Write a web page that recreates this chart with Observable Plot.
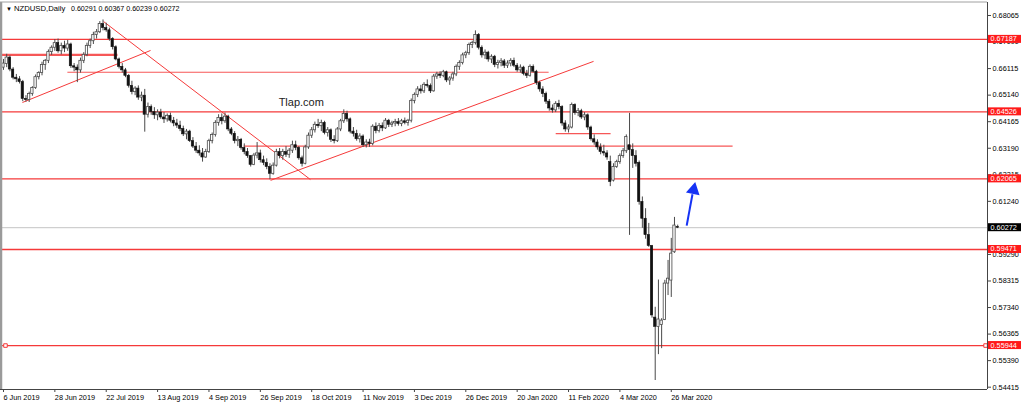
<!DOCTYPE html>
<html><head><meta charset="utf-8">
<script src="https://cdn.jsdelivr.net/npm/d3@7"></script>
<script src="https://cdn.jsdelivr.net/npm/@observablehq/plot@0.6"></script>
<style>
html,body{margin:0;padding:0;background:#fff;}
#chart{width:1024px;height:406px;overflow:hidden;}
</style></head><body><div id="chart"></div>
<script>
// ---- data (NZDUSD daily, bar index 0 = 6 Jun 2019) ----
const opens = [.6615,.6628,.6652,.6608,.6578,.6572,.6562,.6500,.6496,.6518,.6540,.6580,.6595,.6625,.6640,.6672,.6688,.6705,.6675,.6695,
.6685,.6700,.6620,.6615,.6605,.6640,.6662,.6695,.6712,.6735,.6745,.6775,.6760,.6752,.6720,.6690,.6645,.6618,.6605,.6585,
.6548,.6525,.6538,.6505,.6512,.6442,.6470,.6452,.6440,.6450,.6432,.6425,.6438,.6420,.6410,.6402,.6390,.6370,.6380,.6345,
.6325,.6310,.6300,.6285,.6305,.6345,.6368,.6412,.6430,.6418,.6435,.6388,.6372,.6345,.6350,.6320,.6305,.6290,.6258,.6292,
.6300,.6275,.6265,.6250,.6225,.6255,.6305,.6290,.6305,.6295,.6310,.6330,.6320,.6282,.6262,.6322,.6365,.6385,.6405,.6400,
.6412,.6375,.6385,.6350,.6345,.6388,.6418,.6445,.6425,.6380,.6372,.6352,.6362,.6330,.6340,.6335,.6398,.6382,.6400,.6392,
.6420,.6405,.6410,.6415,.6408,.6418,.6412,.6420,.6492,.6515,.6535,.6528,.6552,.6548,.6528,.6582,.6590,.6585,.6598,.6568,
.6575,.6590,.6618,.6632,.6660,.6668,.6698,.6705,.6735,.6688,.6660,.6670,.6645,.6655,.6625,.6632,.6638,.6622,.6630,.6640,
.6622,.6605,.6615,.6592,.6585,.6618,.6600,.6558,.6535,.6518,.6490,.6465,.6458,.6482,.6470,.6410,.6388,.6395,.6478,.6448,
.6455,.6432,.6440,.6395,.6352,.6340,.6322,.6305,.6300,.6268,.6200,.6250,.6268,.6290,.6308,.6330,.6312,.6290,.6265,.6122,
.6060,.6000,.5960,.5697,.5663,.5670,.5688,.5822,.5833,.5937,.60291];
const highs = [.6645,.6664,.6658,.6615,.6590,.6582,.6568,.6512,.6525,.6545,.6588,.6600,.6635,.6645,.6680,.6695,.6718,.6720,.6705,.6712,
.6715,.6705,.6630,.6625,.6650,.6670,.6705,.6720,.6745,.6755,.6784,.6790,.6778,.6760,.6725,.6695,.6650,.6630,.6612,.6590,
.6565,.6545,.6548,.6525,.6535,.6485,.6478,.6468,.6460,.6462,.6450,.6445,.6448,.6432,.6425,.6418,.6400,.6388,.6385,.6358,
.6340,.6328,.6318,.6315,.6352,.6375,.6420,.6442,.6445,.6448,.6440,.6395,.6380,.6362,.6355,.6335,.6318,.6292,.6300,.6340,
.6312,.6290,.6280,.6262,.6265,.6315,.6318,.6315,.6325,.6318,.6345,.6345,.6325,.6290,.6330,.6375,.6395,.6415,.6425,.6422,
.6418,.6395,.6390,.6365,.6395,.6425,.6460,.6455,.6430,.6395,.6385,.6372,.6368,.6350,.6352,.6405,.6412,.6410,.6412,.6428,
.6425,.6418,.6425,.6428,.6425,.6430,.6425,.6500,.6522,.6545,.6550,.6560,.6570,.6555,.6590,.6598,.6600,.6605,.6602,.6582,
.6598,.6625,.6640,.6668,.6675,.6705,.6712,.6750,.6740,.6695,.6680,.6675,.6662,.6660,.6642,.6648,.6645,.6640,.6648,.6650,
.6630,.6625,.6620,.6605,.6625,.6625,.6605,.6565,.6545,.6525,.6498,.6478,.6490,.6495,.6475,.6420,.6405,.6485,.6482,.6465,
.6462,.6450,.6445,.6400,.6368,.6350,.6335,.6330,.6310,.6290,.6262,.6275,.6298,.6318,.6368,.6447,.6335,.6310,.6272,.6140,
.6097,.6043,.5962,.5735,.5835,.5693,.5834,.5907,.5988,.6065,.60367];
const lows = [.6605,.6615,.6600,.6570,.6560,.6555,.6490,.6488,.6487,.6510,.6535,.6570,.6585,.6605,.6630,.6660,.6675,.6668,.6662,.6670,
.6675,.6612,.6600,.6560,.6595,.6630,.6655,.6685,.6700,.6720,.6740,.6750,.6745,.6712,.6680,.6640,.6610,.6595,.6578,.6540,
.6515,.6512,.6495,.6490,.6378,.6430,.6440,.6425,.6420,.6425,.6410,.6415,.6412,.6398,.6392,.6380,.6362,.6350,.6340,.6318,
.6300,.6290,.6268,.6282,.6300,.6335,.6360,.6400,.6405,.6410,.6380,.6365,.6335,.6325,.6312,.6295,.6282,.6250,.6255,.6280,
.6265,.6255,.6240,.6203,.6220,.6250,.6280,.6275,.6285,.6282,.6300,.6310,.6275,.6250,.6258,.6315,.6355,.6375,.6392,.6380,
.6368,.6360,.6340,.6335,.6340,.6380,.6410,.6415,.6372,.6360,.6345,.6338,.6322,.6320,.6322,.6328,.6372,.6375,.6380,.6388,
.6395,.6395,.6398,.6400,.6398,.6405,.6400,.6412,.6482,.6505,.6518,.6520,.6540,.6520,.6525,.6572,.6575,.6578,.6560,.6550,
.6565,.6582,.6605,.6625,.6648,.6660,.6685,.6698,.6680,.6650,.6645,.6635,.6630,.6615,.6610,.6618,.6612,.6612,.6618,.6615,
.6598,.6595,.6585,.6575,.6580,.6595,.6550,.6525,.6505,.6480,.6455,.6448,.6450,.6460,.6400,.6378,.6375,.6390,.6440,.6435,
.6425,.6420,.6385,.6345,.6330,.6312,.6295,.6290,.6275,.6178,.6195,.6245,.6260,.6282,.6300,.5999,.6245,.6250,.6110,.6025,
.5985,.5955,.5695,.5466,.5561,.5583,.5686,.5778,.5771,.5933,.60239];
const closes = [.6630,.6652,.6608,.6578,.6572,.6562,.6500,.6496,.6518,.6540,.6580,.6595,.6625,.6640,.6672,.6688,.6705,.6675,.6695,.6685,
.6700,.6620,.6615,.6605,.6640,.6662,.6695,.6712,.6735,.6745,.6775,.6760,.6752,.6720,.6690,.6645,.6618,.6605,.6585,.6548,
.6525,.6538,.6505,.6512,.6442,.6470,.6452,.6440,.6450,.6432,.6425,.6438,.6420,.6410,.6402,.6390,.6370,.6380,.6345,.6325,
.6310,.6300,.6285,.6305,.6345,.6368,.6412,.6430,.6418,.6435,.6388,.6372,.6345,.6350,.6320,.6305,.6290,.6258,.6292,.6300,
.6275,.6265,.6250,.6225,.6255,.6305,.6290,.6305,.6295,.6310,.6330,.6320,.6282,.6262,.6322,.6365,.6385,.6405,.6400,.6412,
.6375,.6385,.6350,.6345,.6388,.6418,.6445,.6425,.6380,.6372,.6352,.6362,.6330,.6340,.6335,.6398,.6382,.6400,.6392,.6420,
.6405,.6410,.6415,.6408,.6418,.6412,.6420,.6492,.6515,.6535,.6528,.6552,.6548,.6528,.6582,.6590,.6585,.6598,.6568,.6575,
.6590,.6618,.6632,.6660,.6668,.6698,.6705,.6735,.6688,.6660,.6670,.6645,.6655,.6625,.6632,.6638,.6622,.6630,.6640,.6622,
.6605,.6615,.6592,.6585,.6618,.6600,.6558,.6535,.6518,.6490,.6465,.6458,.6482,.6470,.6410,.6388,.6395,.6478,.6448,.6455,
.6432,.6440,.6395,.6352,.6340,.6322,.6305,.6300,.6285,.6195,.6250,.6268,.6290,.6308,.6360,.6312,.6290,.6262,.6122,.6060,
.6000,.5960,.5705,.5663,.5690,.5686,.5822,.5840,.5932,.6035,.60272];

const tickIndex = [0,16,32,48,64,80,96,112,128,144,160,176,192,208];
const tickLabels = ["6 Jun 2019","28 Jun 2019","22 Jul 2019","13 Aug 2019","4 Sep 2019","26 Sep 2019","18 Oct 2019",
  "11 Nov 2019","3 Dec 2019","26 Dec 2019","20 Jan 2020","11 Feb 2020","4 Mar 2020","26 Mar 2020"];
const yTicks = [0.68065,0.67090,0.66115,0.65140,0.64165,0.63190,0.62215,0.61240,0.60265,0.59290,0.58315,0.57340,0.56365,0.55390,0.54415];
const levels = [0.67187,0.64526,0.62065,0.59471,0.55944];
const bidPrice = 0.60272;
const hSegments = [
  {x1:-0.6, x2:35.5, y:0.6662, w:2.2},
  {x1:19.9, x2:169.8, y:0.6598, w:1.2},
  {x1:74.8, x2:227.1, y:0.6327, w:1.2},
  {x1:172, x2:189.1, y:0.6373, w:1.2}
];
const trendLines = [
  {x1:5.9, y1:0.6487, x2:45.8, y2:0.6678},
  {x1:31.2, y1:0.6784, x2:95.6, y2:0.6204},
  {x1:83.2, y1:0.6201, x2:183.8, y2:0.6638}
];
const arrowLine = [{x1:212.8, y1:0.6035, x2:214.6, y2:0.6150}];
const arrowHead = [{x:214.95, y:0.6166}];
const markerIdx = [0.62, 305.9];
const headerName = "NZDUSD,Daily";
const headerValues = ["0.60291","0.60367","0.60239","0.60272"];
const watermark = "Tlap.com";

// ---- build table ----
const bars = opens.map((o, i) => ({i, o, h: highs[i], l: lows[i], c: closes[i]}));
const up = d => d.c >= d.o;
const FONT = "'Liberation Sans', Arial, sans-serif";
const RED = "#f53a3a";
const xDomain = [-0.62, 306.5];
const yDomain = [0.54330, 0.68542];

const chart = Plot.plot({
  width: 1024, height: 406,
  marginLeft: 1, marginRight: 37, marginTop: 2, marginBottom: 17,
  x: {type: "linear", domain: xDomain},
  y: {domain: yDomain},
  style: {fontFamily: FONT, fontSize: "7.3px", color: "#000", background: "#fff", overflow: "visible"},
  marks: [
    Plot.ruleY([bidPrice], {stroke: "#c4c4c4", strokeWidth: 1}),
    Plot.ruleY(levels, {y: d => d, stroke: RED, strokeWidth: 1.3}),
    Plot.link(hSegments, {x1: "x1", x2: "x2", y1: "y", y2: "y", stroke: RED, strokeWidth: "w", strokeOpacity: 0.85}),
    Plot.link(trendLines, {x1: "x1", y1: "y1", x2: "x2", y2: "y2", stroke: RED, strokeWidth: 1}),
    Plot.ruleX(bars, {x: "i", y1: "l", y2: "h", stroke: "#4a4a4a", strokeWidth: 1}),
    Plot.rect(bars, {filter: up, x1: d => d.i - 0.36, x2: d => d.i + 0.36, y1: "o", y2: "c", fill: "#fff", stroke: "#4a4a4a", strokeWidth: 0.8}),
    Plot.rect(bars, {filter: d => !up(d), x1: d => d.i - 0.36, x2: d => d.i + 0.36, y1: "o", y2: "c", fill: "#111", stroke: "#111", strokeWidth: 0.6}),
    Plot.text([watermark], {x: 85.7, y: 0.6487, text: d => d, textAnchor: "start", lineAnchor: "middle", fontSize: 11, fill: "#222"}),
    Plot.link(arrowLine, {x1: "x1", y1: "y1", x2: "x2", y2: "y2", stroke: "#1633f5", strokeWidth: 2}),
    Plot.dot(arrowHead, {x: "x", y: "y", symbol: "triangle", r: 4.2, fill: "#1633f5", stroke: "#1633f5", rotate: 12}),
    Plot.dot(markerIdx, {x: d => d, y: () => levels[4], symbol: "square", r: 2, fill: "#fff", stroke: RED, strokeWidth: 1}),
    Plot.axisY({anchor: "right", ticks: yTicks, tickFormat: d => d.toFixed(5), tickSize: 3, tickPadding: 2, label: null, stroke: "#444"}),
    Plot.axisX({ticks: tickIndex, tickFormat: d => tickLabels[tickIndex.indexOf(d)], tickSize: 3, tickPadding: 2, textAnchor: "start", label: null, stroke: "#444"})
  ]
});

document.getElementById("chart").appendChild(chart);

const xS = chart.scale("x");
const yS = chart.scale("y");
const svg = d3.select(chart);

// chart frame (grey left/top border, dark axis lines), placed with the plot's scales
const xl = xS.apply(xDomain[0]), xr = xS.apply(xDomain[1]);
const yt = yS.apply(yDomain[1]), yb = yS.apply(yDomain[0]);
const frame = svg.append("g");
frame.append("line").attr("x1", xl).attr("x2", xl).attr("y1", yt).attr("y2", yb).attr("stroke", "#9a9a9a").attr("stroke-width", 2.5);
frame.append("line").attr("x1", 0).attr("x2", xr).attr("y1", yt).attr("y2", yt).attr("stroke", "#a0a0a0").attr("stroke-width", 1);
frame.append("line").attr("x1", 0).attr("x2", xr).attr("y1", yb + 0.5).attr("y2", yb + 0.5).attr("stroke", "#444").attr("stroke-width", 1);
frame.append("line").attr("x1", xr + 0.5).attr("x2", xr + 0.5).attr("y1", yt).attr("y2", yb).attr("stroke", "#444").attr("stroke-width", 1);

// price tags on the right axis
const tags = svg.append("g").attr("font-family", FONT).attr("font-size", "7.3px").attr("text-anchor", "start");
const tagData = levels.map(v => ({v, fill: "#ff1a1a"})).concat([{v: bidPrice, fill: "#000"}]);
for (const t of tagData) {
  const yy = yS.apply(t.v);
  tags.append("rect").attr("x", 988).attr("y", yy - 4).attr("width", 33).attr("height", 8).attr("fill", t.fill);
  tags.append("text").attr("x", 990.5).attr("y", yy).attr("dy", "0.34em").attr("fill", "#fff").text(t.v.toFixed(5));
}

// header line (symbol, timeframe, OHLC of last bar)
const hdr = svg.append("g").attr("font-family", FONT).attr("fill", "#000").attr("text-anchor", "start");
hdr.append("text").attr("x", 6).attr("y", 10.5).attr("font-size", "6px").text("▼");
hdr.append("text").attr("x", 14).attr("y", 11).attr("font-size", "7.7px").text(headerName);
hdr.append("text").attr("x", 71).attr("y", 11).attr("font-size", "7.1px")
  .attr("style", "white-space:pre").text(headerValues.join(" "));
</script>
</body></html>
